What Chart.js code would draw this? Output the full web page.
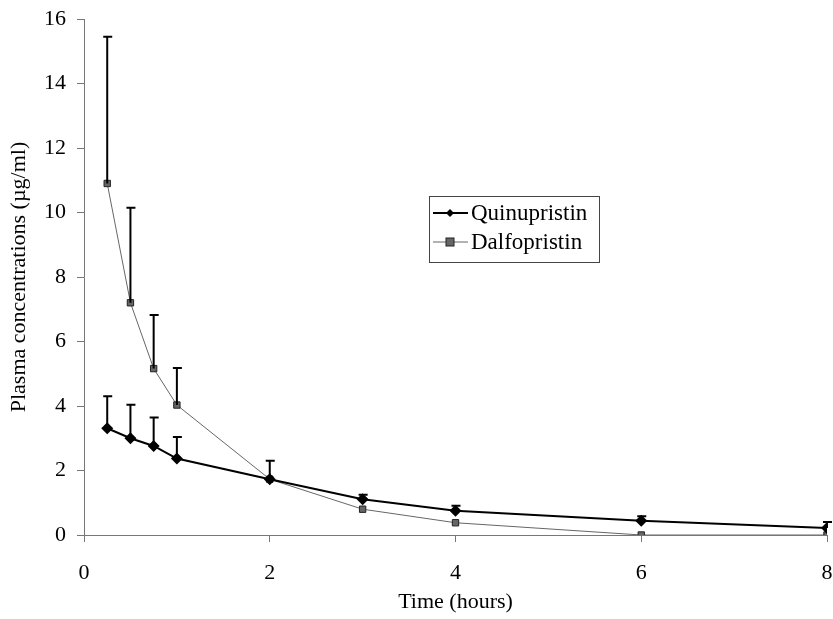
<!DOCTYPE html>
<html>
<head>
<meta charset="utf-8">
<script src="https://cdn.jsdelivr.net/npm/chart.js@4/dist/chart.umd.min.js"></script>
<style>
  html, body { margin: 0; padding: 0; background: #fff; }
  #wrap { width: 833px; height: 619px; position: relative; }
</style>
</head>
<body>
<div id="wrap"><canvas id="pk"></canvas></div>
<script>
// time points (hours)
const times = [0.25, 0.5, 0.75, 1, 2, 3, 4, 6, 8];
// mean plasma concentrations (µg/ml)
const quinupristin = [3.31, 3.0, 2.76, 2.37, 1.73, 1.11, 0.75, 0.44, 0.22];
const dalfopristin = [10.9, 7.2, 5.16, 4.03, 1.73, 0.8, 0.38, 0, 0];
// upper error bar (SD) lengths
const quinupristinSD = [0.99, 1.04, 0.88, 0.67, 0.57, 0.14, 0.16, 0.14, 0.18];
const dalfopristinSD = [4.55, 2.95, 1.66, 1.15, 0, 0, 0, 0, 0];

const serif = '"Liberation Serif", "Times New Roman", serif';

// draws the upward error bars using the chart's own scales
const errorBars = {
  id: 'errorBars',
  afterDatasetsDraw(chart) {
    const ctx = chart.ctx;
    const xs = chart.scales.x, ys = chart.scales.y;
    ctx.save();
    ctx.strokeStyle = '#000';
    ctx.lineWidth = 2;
    chart.data.datasets.forEach(ds => {
      ds.data.forEach((p, i) => {
        const sd = ds.sd[i];
        if (!sd) return;
        const x = xs.getPixelForValue(p.x);
        const y0 = ys.getPixelForValue(p.y);
        const y1 = ys.getPixelForValue(p.y + sd);
        ctx.beginPath();
        ctx.moveTo(x, y0);
        ctx.lineTo(x, y1);
        ctx.moveTo(x - 4, y1);
        ctx.lineTo(x + 5, y1);
        ctx.stroke();
      });
    });
    ctx.restore();
  }
};

// boxed legend inside the plot area
const boxLegend = {
  id: 'boxLegend',
  afterDraw(chart) {
    const ctx = chart.ctx;
    const left = 429, top = 196, w = 170, h = 66;
    ctx.save();
    ctx.strokeStyle = '#444';
    ctx.lineWidth = 1;
    ctx.strokeRect(left + 0.5, top + 0.5, w, h);
    ctx.font = '23px ' + serif;
    ctx.textBaseline = 'middle';
    ctx.fillStyle = '#000';
    chart.data.datasets.forEach((ds, i) => {
      const cy = top + 17 + i * 29;
      ctx.strokeStyle = ds.borderColor;
      ctx.lineWidth = ds.borderWidth;
      ctx.beginPath();
      ctx.moveTo(left + 4, cy);
      ctx.lineTo(left + 39, cy);
      ctx.stroke();
      const cx = left + 21;
      ctx.fillStyle = ds.pointBackgroundColor;
      ctx.strokeStyle = ds.pointBorderColor;
      ctx.lineWidth = 1;
      if (ds.pointStyle === 'rectRot') {
        ctx.beginPath();
        ctx.moveTo(cx, cy - 4);
        ctx.lineTo(cx + 4, cy);
        ctx.lineTo(cx, cy + 4);
        ctx.lineTo(cx - 4, cy);
        ctx.closePath();
        ctx.fill();
      } else {
        ctx.fillRect(cx - 4, cy - 4, 8, 8);
        ctx.strokeRect(cx - 4, cy - 4, 8, 8);
      }
      ctx.fillStyle = '#000';
      ctx.fillText(ds.label, left + 42, cy + 1);
    });
    ctx.restore();
  }
};

new Chart(document.getElementById('pk'), {
  type: 'line',
  data: {
    datasets: [{
      label: 'Quinupristin',
      data: times.map((t, i) => ({x: t, y: quinupristin[i]})),
      sd: quinupristinSD,
      borderColor: '#000',
      borderWidth: 2,
      pointStyle: 'rectRot',
      pointRadius: 6,
      pointBackgroundColor: '#000',
      pointBorderColor: '#000',
      pointBorderWidth: 0,
      tension: 0
    }, {
      label: 'Dalfopristin',
      data: times.map((t, i) => ({x: t, y: dalfopristin[i]})),
      sd: dalfopristinSD,
      borderColor: '#666',
      borderWidth: 1,
      pointStyle: 'rect',
      pointRadius: 4.5,
      pointBackgroundColor: '#666',
      pointBorderColor: '#222',
      pointBorderWidth: 1,
      tension: 0
    }]
  },
  options: {
    responsive: true,
    maintainAspectRatio: false,
    animation: false,
    layout: { padding: { top: 19, right: 6, left: 6, bottom: 4 } },
    plugins: { legend: { display: false }, tooltip: { enabled: false } },
    scales: {
      x: {
        type: 'linear',
        min: 0, max: 8,
        ticks: { stepSize: 2, color: '#000', font: { family: serif, size: 22 }, padding: 18 },
        grid: { display: true, drawOnChartArea: false, color: '#777', tickLength: 7 },
        border: { color: '#777', width: 1 },
        title: { display: true, text: 'Time (hours)', color: '#000', font: { family: serif, size: 22 }, padding: { top: 0, bottom: 0 } },
        afterFit(s) { s.height = 80; s.paddingLeft = 0; s.paddingRight = 0; }
      },
      y: {
        min: 0, max: 16,
        ticks: { stepSize: 2, color: '#000', font: { family: serif, size: 22 }, padding: 11 },
        grid: { display: true, drawOnChartArea: false, color: '#777', tickLength: 7 },
        border: { color: '#777', width: 1 },
        title: { display: true, text: 'Plasma concentrations (µg/ml)', color: '#000', font: { family: serif, size: 22 }, padding: { top: 0, bottom: 0 } },
        afterFit(s) { s.width = 78; s.paddingTop = 0; s.paddingBottom = 0; }
      }
    }
  },
  plugins: [errorBars, boxLegend]
});
</script>
</body>
</html>
